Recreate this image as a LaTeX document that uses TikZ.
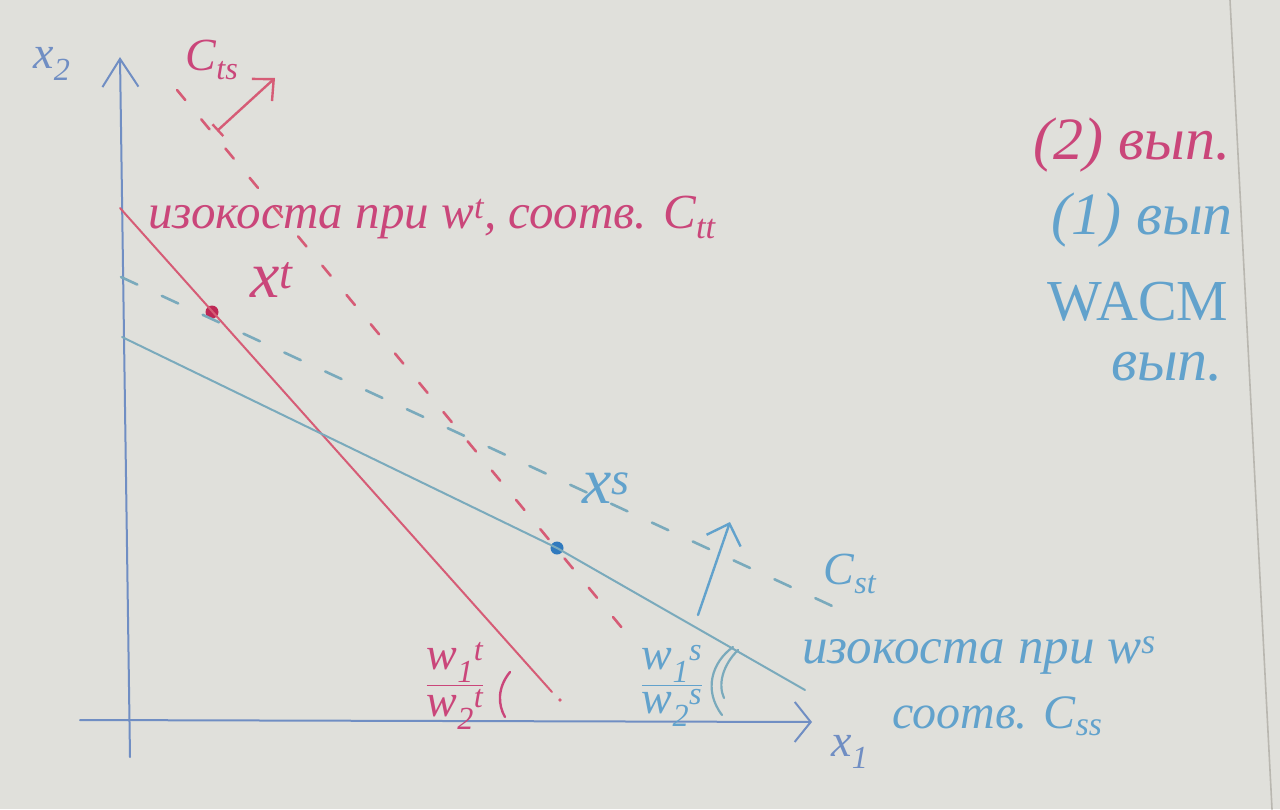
\documentclass[tikz,border=0pt]{standalone}
\usepackage{fontspec}
\usepackage{amsmath}
\setmainfont{Liberation Serif}
\usetikzlibrary{arrows.meta}
\definecolor{paper}{RGB}{224,224,219}
\definecolor{edge}{RGB}{185,183,176}
\definecolor{penred}{RGB}{202,70,122}
\definecolor{linered}{RGB}{214,92,118}
\definecolor{dotred}{RGB}{190,40,85}
\definecolor{penblue}{RGB}{98,162,204}
\definecolor{axisblue}{RGB}{112,142,195}
\definecolor{lineblue}{RGB}{122,170,188}
\definecolor{dotblue}{RGB}{48,122,190}
\begin{document}
\begin{tikzpicture}[x=1pt,y=-1pt,line cap=round,line join=round,
  pentxt/.style={inner sep=0pt,font=\fontsize{46}{50}\selectfont\itshape},
  bigtxt/.style={inner sep=0pt,font=\fontsize{60}{64}\selectfont\itshape},
  redt/.style={text=penred},
  bluet/.style={text=penblue},
  axisline/.style={draw=axisblue,line width=2pt},
  redline/.style={draw=linered,line width=2pt},
  blueline/.style={draw=lineblue,line width=2pt},
  reddash/.style={draw=linered,line width=2.6pt,dash pattern=on 13pt off 25pt},
  bluedash/.style={draw=lineblue,line width=2.6pt,dash pattern=on 18pt off 27pt},
  ptdot/.style={circle,inner sep=0pt,minimum size=13pt},
  penarrow/.style={line width=2.4pt}
]
\fill[paper] (0,0) rectangle (1280,809);
\useasboundingbox (0,0) rectangle (1280,809);
\draw[edge,line width=1.6pt] (1230,0) -- (1272,809);

% axes
\coordinate (yb) at (130,757);
\coordinate (yt) at (120,57);
\coordinate (xl) at (80,720);
\coordinate (xr) at (812,722);
\draw[axisline,-{Straight Barb[length=28pt,width=36pt]}] (yb) -- (yt);
\draw[axisline,-{Straight Barb[length=16pt,width=40pt]}] (xl) -- (xr);

% points
\node[ptdot,fill=dotred] (xt) at (212,312) {};
\node[ptdot,fill=dotblue] (xs) at (557,548) {};

% isocost at w^t (solid red)
\coordinate (rs1) at (120,208);
\coordinate (rs2) at (552,692);
\draw[redline] (rs1) -- (rs2);
\fill[linered] (560,700) circle (1.8pt);

% isocost at w^s (solid blue)
\coordinate (bs1) at (122,337);
\coordinate (bs2) at (805,690);
\draw[blueline] (bs1) -- (xs.center) -- (bs2);

% dashed isocosts
\coordinate (rd1) at (177,90);
\coordinate (rd2) at (632,640);
\draw[reddash] (rd1) -- (rd2);
\coordinate (bd1) at (121,277);
\coordinate (bd2) at (856,617);
\draw[bluedash] (bd1) -- (bd2);

% direction arrows
\coordinate (ra1) at (217,131);
\coordinate (ra2) at (275,78);
\draw[linered,penarrow,{Bar[width=16pt]}-{Straight Barb[length=16pt,width=30pt]}] (ra1) -- (ra2);
\coordinate (ba1) at (698,615);
\coordinate (ba2) at (730,522);
\draw[penblue,penarrow,-{Straight Barb[length=18pt,width=36pt]}] (ba1) -- (ba2);

% angle marks
\draw[penred,line width=2.4pt] (510,672) .. controls (497,688) and (498,705) .. (505,717);
\draw[lineblue,line width=2.2pt] (733,647) .. controls (712,662) and (703,690) .. (722,715);
\draw[lineblue,line width=2.2pt] (738,650) .. controls (722,666) and (718,685) .. (724,698);

% labels
\node[pentxt,text=axisblue] (lx2) at (52,64) {x\textsubscript{2}};
\node[pentxt,text=axisblue] (lx1) at (850,752) {x\textsubscript{1}};
\node[pentxt,redt] (lcts) at (212,60) {C\textsubscript{ts}};
\node[bigtxt,redt,font=\fontsize{66}{70}\selectfont\itshape] (lxt) at (272,280) {x\textsuperscript{t}};
\node[bigtxt,bluet,font=\fontsize{66}{70}\selectfont\itshape] (lxs) at (606,488) {x\textsuperscript{s}};
\node[pentxt,bluet] (lcst) at (850,574) {C\textsubscript{st}};
\node[pentxt,redt,anchor=base west,font=\fontsize{49}{52}\selectfont\itshape] (isot) at (148,228) {изокоста при w\textsuperscript{t}, соотв. C\textsubscript{tt}};
\node[pentxt,bluet,anchor=base west,font=\fontsize{51}{54}\selectfont\itshape] (isos) at (802,663) {изокоста при w\textsuperscript{s}};
\node[pentxt,bluet,anchor=base west,font=\fontsize{48}{52}\selectfont\itshape] (sootv) at (892,728) {соотв. C\textsubscript{ss}};
\node[pentxt,redt] (fract) at (455,686) {$\dfrac{\text{w\textsubscript{1}\textsuperscript{t}}}{\text{w\textsubscript{2}\textsuperscript{t}}}$};
\node[pentxt,bluet] (fracs) at (672,686) {$\dfrac{\text{w\textsubscript{1}\textsuperscript{s}}}{\text{w\textsubscript{2}\textsuperscript{s}}}$};

% notes on the right
\node[bigtxt,redt] (n2) at (1132,145) {(2) вып.};
\node[bigtxt,bluet] (n1) at (1142,220) {(1) вып};
\node[bigtxt,bluet,font=\fontsize{58}{62}\selectfont\upshape] (nw) at (1138,302) {WACM};
\node[bigtxt,bluet] (nv) at (1167,367) {вып.};
\end{tikzpicture}
\end{document}
